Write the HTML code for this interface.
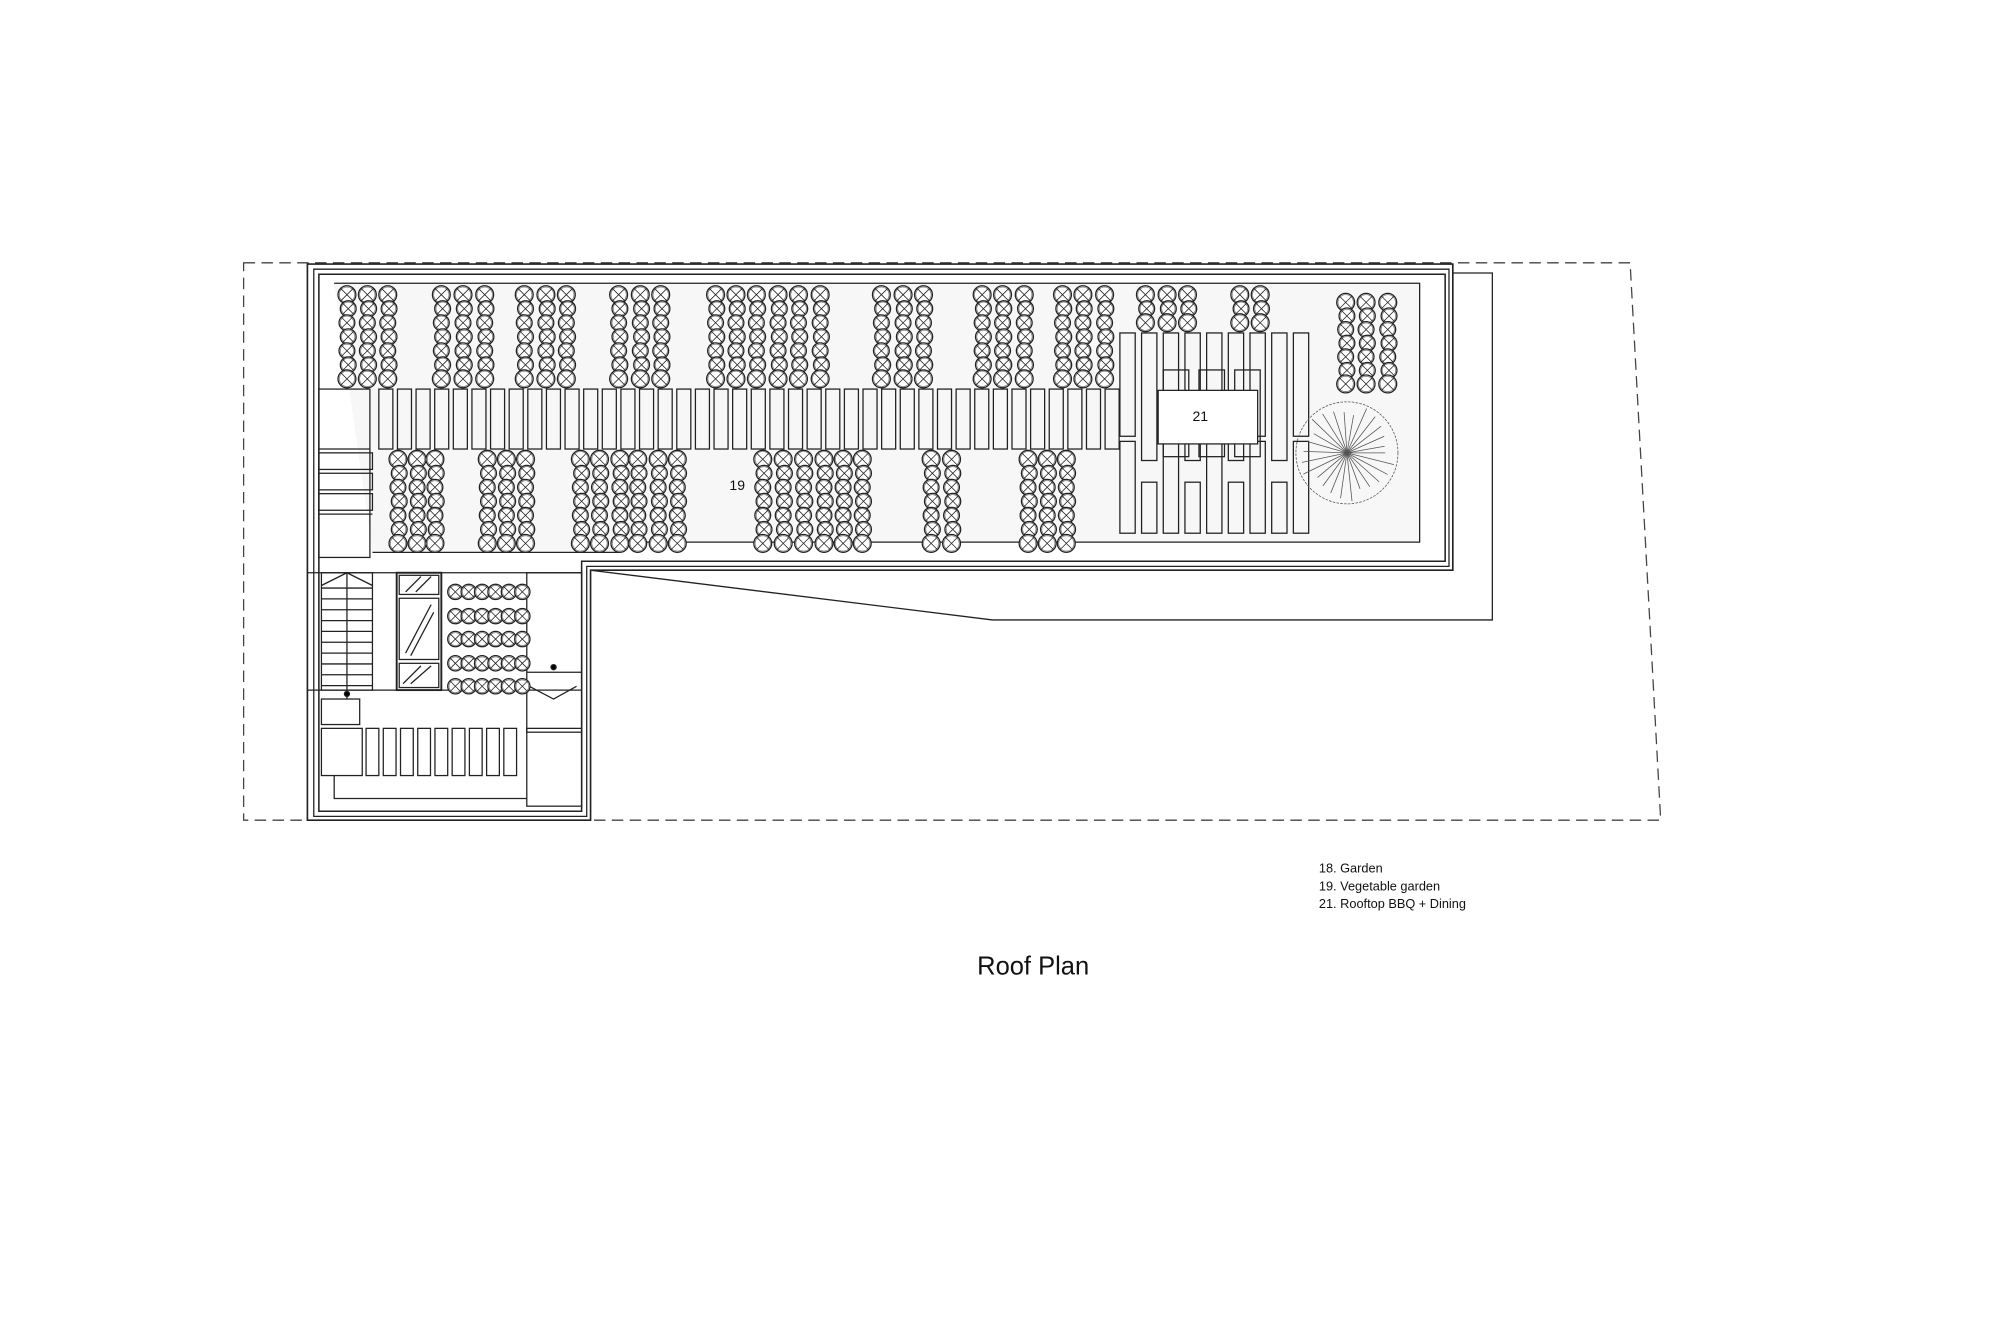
<!DOCTYPE html>
<html><head><meta charset="utf-8"><style>
html,body{margin:0;padding:0;background:#fff}
svg{display:block}
text{font-family:"Liberation Sans",sans-serif;fill:#111}
</style></head><body>
<svg id="s" width="2000" height="1333" viewBox="0 0 1568 1045" xmlns="http://www.w3.org/2000/svg">
<g fill="none" stroke="#222" stroke-width="1">
<path d="M191,206 L1278,206 L1302,643 L191,643 Z" stroke-dasharray="9,5" stroke="#444"/>
<path d="M241,207 H1139 V447 H463 V643 H241 Z" stroke-width="1.3"/>
<path d="M246,211 H1136 V444 H460 V640 H246 Z"/>
<path d="M250,215 H1133 V440 H456 V636 H250 Z" stroke-width="1.2"/>
<path d="M1139,214 H1170 V486 H778 L463,447"/>
<path d="M262,222 H1113 V425 H485 V433 H292" fill="#f7f7f7"/>
<rect x="250" y="305" width="40" height="132"/>
<line x1="250" y1="352" x2="290" y2="352"/>
<rect x="250" y="355" width="42" height="13"/><rect x="250" y="371" width="42" height="13"/><rect x="250" y="387" width="42" height="13"/>
<line x1="250" y1="403" x2="292" y2="403"/>
<line x1="241" y1="449" x2="456" y2="449"/>
<line x1="241" y1="541" x2="456" y2="541"/>
<rect x="252" y="449" width="40" height="92"/>
<g id="stairs"></g>
<line x1="272" y1="449" x2="272" y2="548"/>
<path d="M252,459 L272,449 L292,459"/>
<rect x="311" y="449" width="35" height="92" stroke-width="1.5"/>
<rect x="313" y="451" width="31" height="15"/><rect x="313" y="469" width="31" height="48"/><rect x="313" y="520" width="31" height="19"/>
<path d="M318,464 L330,452 M326,464 L338,452 M318,512 L338,474 M322,514 L340,480 M316,536 L330,522 M322,536 L338,522"/>
<rect x="413" y="449" width="43" height="125"/>
<path d="M413,527 H456 M415,538 L434,548 L452,538"/>
<circle cx="434" cy="523" r="2" fill="#000"/>
<circle cx="272" cy="544" r="2" fill="#000"/>
<rect x="252" y="548" width="30" height="20"/>
<rect x="252" y="571" width="32" height="37"/>
<rect x="413" y="571" width="43" height="61"/>
<path d="M262,608 V626 H413"/>
<g id="lowben"></g>
<g id="ben"></g>
<g id="din"></g>
<rect x="912" y="290" width="20" height="68"/><rect x="940" y="290" width="20" height="68"/><rect x="968" y="290" width="20" height="68"/>
<rect x="908" y="306" width="78" height="42" fill="#fff"/>
<g id="bigtree" stroke="#555" stroke-width="0.6"></g>
<g id="trees" stroke="#222" stroke-width="1"></g>
</g>
<text x="578" y="384" font-size="11" text-anchor="middle">19</text>
<text x="941" y="330" font-size="11" text-anchor="middle">21</text>
<text x="1034" y="684" font-size="10">18. Garden</text>
<text x="1034" y="698" font-size="10">19. Vegetable garden</text>
<text x="1034" y="712" font-size="10">21. Rooftop BBQ + Dining</text>
<text x="810" y="764" font-size="20" text-anchor="middle">Roof Plan</text>
</svg>
<script>
(function(){
var NS="http://www.w3.org/2000/svg";
function el(p,t,a){var e=document.createElementNS(NS,t);for(var k in a)e.setAttribute(k,a[k]);document.getElementById(p).appendChild(e);return e;}
for(var y=461;y<541;y+=8.5)el("stairs","line",{x1:252,y1:y,x2:292,y2:y});
for(var i=0;i<9;i++)el("lowben","rect",{x:287+i*13.5,y:571,width:10,height:37});
for(var x=297;x<878;x+=14.6)el("ben","rect",{x:x,y:305,width:11,height:47});
var dx=[878,895,912,929,946,963,980,997,1014];
for(var i=0;i<dx.length;i++){var x=dx[i];
 if(i%2==0){el("din","rect",{x:x,y:261,width:12,height:81});el("din","rect",{x:x,y:346,width:12,height:72});}
 else{el("din","rect",{x:x,y:261,width:12,height:100});el("din","rect",{x:x,y:378,width:12,height:40});}}
function tree(cx,cy,r){el("trees","circle",{cx:cx,cy:cy,r:r,fill:"#fff"});
 el("trees","circle",{cx:cx,cy:cy,r:r-1,"stroke-width":0.5,stroke:"#666"});
 el("trees","path",{d:"M"+(cx-r*0.7)+","+(cy-r*0.7)+"L"+(cx+r*0.7)+","+(cy+r*0.7)+"M"+(cx+r*0.7)+","+(cy-r*0.7)+"L"+(cx-r*0.7)+","+(cy+r*0.7),"stroke-width":0.6});}
function col(x,y0,y1,n){for(var i=0;i<n;i++){var y=y0+(y1-y0)*i/(n-1);tree(x+(i%2?1:0),y,(i==0||i==n-1)?7:6.2);}}
var tops=[272,288,304,346,363,380,411,428,444,485,502,518,561,577,593,610,626,643,691,708,724,770,786,803,833,849,866];
tops.forEach(function(x){col(x,231,297,7);});
[898,915,931,972,988].forEach(function(x){col(x,231,253,3);});
[1055,1071,1088].forEach(function(x){col(x,237,301,7);});
var bot=[312,327,341,382,397,412,455,470,486,500,516,531,598,614,630,646,661,676,730,746,806,821,836];
bot.forEach(function(x){col(x,360,426,7);});
[464,483,501,520,538].forEach(function(y){for(var i=0;i<6;i++)tree(357+i*10.5,y,6);});
var cx=1056,cy=355;
el("bigtree","circle",{cx:cx,cy:cy,r:40,"stroke-dasharray":"2,1"});
for(var a=0;a<360;a+=14){var r=a*Math.PI/180,l=30+((a*7)%10);
 el("bigtree","line",{x1:cx,y1:cy,x2:cx+Math.cos(r)*l,y2:cy+Math.sin(r)*l});}
})();
</script>
</body></html>
